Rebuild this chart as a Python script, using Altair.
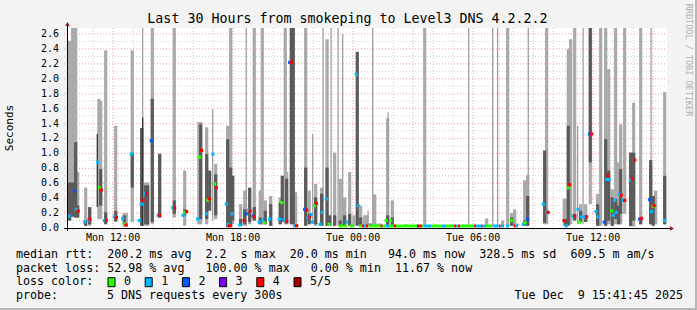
import altair as alt
import pandas as pd

# ---------------- data (hours since Mon 00:00, seconds) ----------------
X0, X1 = 9.696, 39.696      # Mon 09:41:45 .. Tue 15:41:45
Y1 = 2.68
TOP = 2.7
W = 0.16

# light smoke (t, lo, hi)
light_bars = [
    (9.75, 0.10, 2.51), (9.90, 0.23, TOP), (10.05, 0.14, TOP), (10.15, 0.14, 0.75),
    (10.55, 0.03, 0.54), (10.75, 0.03, 0.28), (11.21, 0.12, 1.73), (11.30, 0.12, 1.70),
    (11.55, 0.10, 2.38), (12.05, 0.08, 1.37), (12.48, 0.02, 0.20), (12.58, 0.02, 0.20),
    (12.88, 0.08, 2.38), (13.35, 0.03, 1.34), (13.55, 0.03, 0.61), (13.65, 0.03, 0.61),
    (13.88, 0.05, TOP), (14.25, 0.14, 1.00), (14.98, 0.14, TOP), (15.50, 0.03, 0.77),
    (16.21, 0.05, 1.42), (16.30, 0.05, 1.42), (16.60, 0.05, 1.35), (17.05, 0.12, 0.86),
    (17.65, 0.03, 1.37), (17.80, 0.03, TOP), (17.90, 0.05, 0.70), (18.30, 0.03, 0.32),
    (18.50, 0.03, 0.50), (18.75, 0.05, 0.54), (18.98, 0.10, TOP), (19.28, 0.05, 0.50),
    (19.38, 0.05, TOP), (19.53, 0.05, 0.37), (19.80, 0.03, 0.43), (20.28, 0.05, 0.41),
    (20.53, 0.05, TOP), (20.60, 0.05, 0.75), (20.85, 0.05, TOP), (21.05, 0.02, 0.48),
    (21.55, 0.03, TOP), (21.73, 0.05, 0.50), (22.05, 0.03, 0.59), (22.35, 0.03, 0.54),
    (22.62, 0.03, 2.53), (23.00, 0.03, 1.01), (23.28, 0.03, 0.66), (23.50, 0.03, 0.41),
    (23.75, 0.03, 0.75), (23.96, 0.03, 0.17), (24.30, 0.03, 0.30), (24.50, 0.03, 0.17),
    (24.60, 0.03, 0.17), (25.00, 0.03, 0.45), (25.15, 0.03, 0.06), (25.30, 0.03, 0.06),
    (25.65, 0.03, 1.47), (25.88, 0.03, 0.37), (26.55, 0.03, 0.05), (27.50, 0.03, TOP),
    (30.60, 0.03, 0.13), (31.40, 0.03, 0.10), (31.65, 0.03, TOP), (31.85, 0.03, 0.20),
    (32.00, 0.03, 0.25), (32.15, 0.03, 0.06), (32.50, 0.05, 0.64), (32.65, 0.03, 0.71),
    (33.50, 0.05, 0.70), (33.60, 0.05, TOP), (34.48, 0.03, 0.39), (34.58, 0.05, 0.39),
    (34.68, 0.05, 2.40), (34.80, 0.05, 2.53), (35.00, 0.10, TOP), (35.30, 0.08, 0.32),
    (35.55, 0.08, 0.32), (35.78, 0.32, TOP), (36.15, 0.03, 0.46), (36.30, 0.03, TOP),
    (36.55, 0.03, TOP), (36.70, 0.05, 2.13), (36.88, 0.03, 0.52), (37.05, 0.05, TOP),
    (37.20, 0.05, 0.88), (37.30, 0.05, 1.39), (37.50, 0.19, TOP), (37.80, 0.02, 1.01),
    (37.95, 0.02, 1.68), (38.30, 0.05, TOP), (38.80, 0.05, 0.83), (39.05, 0.05, 0.50),
    (39.50, 0.05, 1.82),
]

# dark smoke (t, lo, hi)
dark_bars = [
    (9.75, 0.10, 0.61), (9.90, 0.15, 0.61), (10.05, 0.14, 1.15), (10.15, 0.14, 0.30),
    (10.55, 0.03, 0.10), (10.75, 0.05, 0.28), (11.30, 0.30, 0.79), (11.55, 0.05, 0.21),
    (12.05, 0.09, 0.23), (12.48, 0.05, 0.17), (12.88, 0.54, 1.01), (13.35, 0.03, 1.34),
    (13.55, 0.05, 0.57), (13.65, 0.05, 0.57), (13.88, 0.08, 1.73), (14.25, 0.14, 0.99),
    (14.98, 0.19, 0.37), (15.50, 0.17, 0.25), (16.30, 0.12, 1.39), (16.60, 0.12, 0.99),
    (16.75, 0.23, 0.77), (17.05, 0.17, 0.72), (17.65, 0.01, 1.19), (17.80, 0.01, 0.81),
    (17.90, 0.10, 0.70), (18.30, 0.03, 0.12), (18.50, 0.05, 0.25), (18.75, 0.08, 0.54),
    (18.98, 0.10, 0.28), (19.28, 0.05, 0.14), (19.53, 0.05, 0.23), (19.80, 0.03, 0.32),
    (20.28, 0.05, 0.34), (20.38, 0.08, 0.70), (20.60, 0.06, 0.66), (20.83, 0.05, TOP),
    (20.93, 0.05, TOP), (21.55, 0.03, 0.81), (21.73, 0.05, 0.19), (22.05, 0.05, 0.41),
    (22.35, 0.03, 0.46), (22.62, 0.03, 0.81), (22.75, 0.03, 0.17), (23.00, 0.03, 0.17),
    (23.28, 0.03, 0.10), (23.50, 0.03, 0.17), (23.75, 0.03, 0.19), (24.13, 0.03, 2.36),
    (24.30, 0.03, 0.14), (24.78, 0.02, 0.06), (25.65, 0.03, 0.17), (25.88, 0.03, 0.14),
    (31.85, 0.03, 0.14), (32.50, 0.03, 0.10), (32.65, 0.03, 0.43), (33.50, 0.07, 1.04),
    (34.55, 0.03, 0.12), (34.68, 0.03, 1.37), (35.00, 0.10, 0.19), (35.30, 0.08, 0.23),
    (35.55, 0.08, 0.17), (35.78, 0.88, TOP), (36.15, 0.03, 0.32), (36.55, 0.03, 1.19),
    (36.70, 0.10, 0.77), (36.88, 0.03, 0.41), (37.05, 0.12, 0.39), (37.20, 0.05, 0.30),
    (37.30, 0.19, 0.79), (37.80, 0.03, 1.01), (37.95, 0.10, 1.01), (38.30, 0.05, 0.12),
    (38.80, 0.05, 0.91), (38.93, 0.03, 0.43), (39.50, 0.05, 0.70),
]

# thin smoke lines (t, lo, hi, shade)
thin_lines = [
    (11.21, 0.28, 1.26, "dark"), (13.48, 0.03, TOP, "light"), (13.48, 0.03, 1.48, "dark"),
    (16.98, 0.10, 1.59, "light"), (18.66, 0.03, TOP, "light"), (21.98, 0.05, 1.26, "light"),
    (22.50, 0.03, TOP, "light"), (22.90, 0.03, TOP, "light"), (23.25, 0.03, TOP, "light"),
    (23.48, 0.03, 2.60, "light"), (24.75, 0.03, 0.23, "light"), (24.98, 0.03, TOP, "light"),
    (25.75, 0.03, 1.55, "light"), (29.78, 0.03, TOP, "light"), (30.98, 0.03, TOP, "light"),
    (31.23, 0.03, TOP, "light"), (32.76, 0.03, TOP, "light"), (35.23, 0.05, 1.37, "light"),
    (35.50, 0.05, TOP, "light"), (38.90, 0.05, TOP, "light"),
]

# median rtt marks (t, value, loss class)
medians = [
    (9.80, 0.16, "1"), (10.08, 0.50, "2"), (10.16, 0.25, "1"), (10.25, 0.23, "4"),
    (10.58, 0.08, "1"), (10.78, 0.11, "1"), (10.84, 0.12, "4"),
    (11.23, 0.88, "1"), (11.31, 0.54, "0"), (11.41, 0.51, "4"),
    (11.56, 0.10, "1"), (11.66, 0.10, "4"), (12.06, 0.15, "1"), (12.16, 0.14, "4"),
    (12.48, 0.13, "1"), (12.56, 0.06, "0"), (12.65, 0.04, "4"), (12.91, 0.99, "1"),
    (13.31, 0.10, "1"), (13.41, 0.32, "1"), (13.50, 0.37, "4"), (13.60, 0.46, "1"),
    (13.68, 0.46, "4"), (13.91, 1.17, "2"), (14.25, 0.17, "1"), (14.33, 0.17, "4"),
    (14.98, 0.27, "1"), (15.08, 0.27, "4"), (15.50, 0.17, "1"), (15.58, 0.21, "0"),
    (15.68, 0.22, "4"), (16.23, 0.12, "1"), (16.33, 0.95, "0"), (16.43, 1.04, "4"),
    (16.66, 0.19, "1"), (16.73, 0.37, "0"), (16.81, 0.39, "4"), (16.99, 0.99, "1"),
    (17.08, 0.59, "0"), (17.16, 0.54, "4"), (17.66, 0.32, "1"), (17.75, 0.05, "1"),
    (17.83, 0.03, "4"), (17.95, 0.19, "1"), (18.33, 0.04, "1"), (18.56, 0.10, "4"),
    (18.66, 0.19, "2"), (18.78, 0.24, "1"), (18.85, 0.23, "4"), (19.00, 0.16, "2"),
    (19.05, 0.15, "4"), (19.30, 0.08, "1"), (19.48, 0.11, "1"), (19.58, 0.07, "0"),
    (19.83, 0.12, "1"), (20.31, 0.12, "1"), (20.43, 0.34, "0"), (20.55, 0.11, "1"),
    (20.68, 0.09, "4"), (20.83, 2.22, "2"), (20.93, 2.22, "4"), (21.08, 0.03, "1"),
    (21.18, 0.03, "4"), (21.58, 0.25, "2"), (21.68, 0.24, "4"), (21.75, 0.14, "1"),
    (21.83, 0.15, "4"), (21.90, 0.18, "1"), (21.96, 0.08, "1"), (22.08, 0.30, "0"),
    (22.16, 0.33, "4"), (22.35, 0.05, "1"), (22.46, 0.21, "1"), (22.66, 0.39, "1"),
    (22.80, 0.05, "0"), (23.68, 0.08, "1"), (24.16, 2.06, "1"), (24.26, 0.30, "1"),
    (25.65, 0.10, "0"), (25.88, 0.10, "0"), (31.91, 0.10, "0"), (32.51, 0.05, "1"),
    (32.60, 0.07, "0"), (32.73, 0.12, "2"), (33.51, 0.32, "1"), (33.68, 0.21, "1"),
    (33.75, 0.21, "4"), (34.55, 0.10, "4"), (34.66, 0.03, "1"), (34.75, 0.54, "0"),
    (34.83, 0.58, "4"), (35.00, 0.16, "1"), (35.08, 0.16, "4"), (35.25, 0.25, "1"),
    (35.33, 0.08, "0"), (35.43, 0.15, "1"), (35.58, 0.15, "1"), (35.68, 0.15, "4"),
    (35.83, 1.26, "2"), (35.93, 1.26, "4"), (36.15, 0.22, "1"), (36.26, 0.15, "1"),
    (36.56, 0.08, "2"), (36.68, 0.65, "1"), (36.75, 0.70, "4"), (36.81, 0.65, "1"),
    (36.93, 0.23, "0"), (37.01, 0.17, "1"), (37.08, 0.37, "1"), (37.16, 0.21, "1"),
    (37.33, 0.45, "1"), (37.41, 0.44, "4"), (37.51, 0.37, "1"), (37.58, 0.37, "4"),
    (37.86, 0.65, "1"), (37.95, 0.66, "4"), (38.08, 0.91, "4"), (38.33, 0.12, "2"),
    (38.43, 0.13, "4"), (38.83, 0.38, "2"), (38.93, 0.22, "1"), (39.00, 0.29, "0"),
    (39.05, 0.30, "4"), (39.58, 0.10, "1"),
]

# low median line segments during the quiet night (start, end, loss class)
low_segments = [
    (23.28, 23.50, "0"), (23.55, 23.68, "0"), (23.85, 24.05, "0"), (24.30, 24.45, "0"),
    (24.45, 24.55, "4"), (24.55, 24.65, "1"), (24.65, 24.75, "4"), (24.78, 25.38, "0"),
    (25.38, 25.48, "4"), (25.48, 25.65, "0"), (25.65, 25.80, "1"), (25.80, 26.03, "0"),
    (26.03, 26.15, "4"), (26.15, 27.20, "0"), (27.20, 27.30, "5"), (27.30, 27.45, "4"),
    (27.45, 27.55, "0"), (27.55, 27.90, "1"), (27.90, 28.45, "0"), (28.45, 28.65, "1"),
    (28.65, 29.05, "0"), (29.05, 29.15, "4"), (29.15, 29.25, "1"), (29.25, 29.35, "4"),
    (29.35, 30.05, "0"), (30.05, 30.15, "4"), (30.15, 30.40, "1"), (30.40, 30.48, "4"),
    (30.48, 30.65, "1"), (30.65, 30.95, "0"), (30.98, 31.28, "1"), (31.30, 31.38, "4"),
    (31.38, 31.55, "1"), (31.65, 31.80, "1"), (32.03, 32.10, "4"), (32.10, 32.25, "1"),
]

loss_classes = ["0", "1", "2", "3", "4", "5"]
loss_labels = ["0", "1", "2", "3", "4", "5/5"]
loss_colors = ["#26ff00", "#00b8ff", "#0059ff", "#7e00ff", "#ff0000", "#a00000"]

xtick_hours = [12, 18, 24, 30, 36]
xtick_labels = ["Mon 12:00", "Mon 18:00", "Tue 00:00", "Tue 06:00", "Tue 12:00"]
minor_hours = [10, 11, 13, 14, 16, 17, 19, 20, 22, 23, 25, 26, 28, 29, 31, 32, 34, 35, 37, 38]
major_hours = [12, 15, 18, 21, 24, 27, 30, 33, 36, 39]
ytick_vals = [0.0, 0.2, 0.4, 0.6, 0.8, 1.0, 1.2, 1.4, 1.6, 1.8, 2.0, 2.2, 2.4, 2.6]
ymajor = [0.2, 0.4, 0.6, 0.8, 1.0, 1.2, 1.4, 1.6, 1.8, 2.0, 2.2, 2.4, 2.6]
yminor = [0.1, 0.3, 0.5, 0.7, 0.9, 1.1, 1.3, 1.5, 1.7, 1.9, 2.1, 2.3, 2.5]

title_text = "Last 30 Hours from smokeping to Level3 DNS 4.2.2.2"
NB = "\u00a0"
legend_lines = [
    "median rtt:  200.2 ms avg  2.2  s max  20.0 ms min   94.0 ms now  328.5 ms sd  609.5 m am/s",
    "packet loss: 52.98 % avg   100.00 % max   0.00 % min  11.67 % now",
]
probe_label = "probe:"
probe_text = "5 DNS requests every 300s"
stamp_text = "Tue Dec  9 15:41:45 2025"

# ---------------- build ----------------
FONT = "DejaVu Sans Mono"
xs = alt.Scale(domain=[X0, X1], nice=False, zero=False)
ys = alt.Scale(domain=[0, Y1], nice=False, zero=False)

def df_bars(rows):
    d = pd.DataFrame(rows, columns=["t", "lo", "hi"])
    d["t2"] = d["t"] + W
    return d

light_df = df_bars(light_bars)
dark_df = df_bars(dark_bars)
thin_df = pd.DataFrame(thin_lines, columns=["t", "lo", "hi", "shade"])
med_df = pd.DataFrame(medians, columns=["t", "v", "cls"])
low_df = pd.DataFrame(low_segments, columns=["t", "t2", "cls"])
color_scale = alt.Scale(domain=loss_classes, range=loss_colors)

def X(f="t"):
    return alt.X(f + ":Q", scale=xs, axis=None)

def Y(f):
    return alt.Y(f + ":Q", scale=ys, axis=None)

layers = []
# grid
layers.append(alt.Chart(pd.DataFrame({"h": minor_hours})).mark_rule(
    color="#d0d0d0", strokeDash=[1, 2], strokeWidth=1).encode(
    x=X("h"), y=alt.value(0), y2=alt.value(203)))
layers.append(alt.Chart(pd.DataFrame({"h": major_hours})).mark_rule(
    color="#ff9a9a", strokeDash=[1, 2], strokeWidth=1).encode(
    x=X("h"), y=alt.value(0), y2=alt.value(203)))
layers.append(alt.Chart(pd.DataFrame({"v": yminor})).mark_rule(
    color="#d0d0d0", strokeDash=[1, 2], strokeWidth=1).encode(
    y=Y("v"), x=alt.value(-3), x2=alt.value(600)))
layers.append(alt.Chart(pd.DataFrame({"v": ymajor})).mark_rule(
    color="#ff9a9a", strokeDash=[1, 2], strokeWidth=1).encode(
    y=Y("v"), x=alt.value(-3), x2=alt.value(600)))

# smoke
layers.append(alt.Chart(light_df).mark_rect(color="#a9a9a9", clip=True).encode(
    x=X("t"), x2="t2:Q", y=Y("lo"), y2="hi:Q"))
layers.append(alt.Chart(thin_df[thin_df.shade == "light"]).mark_rule(
    color="#a0a0a0", strokeWidth=1.3, clip=True).encode(
    x=X("t"), y=Y("lo"), y2="hi:Q"))
layers.append(alt.Chart(dark_df).mark_rect(color="#5a5a5a", clip=True).encode(
    x=X("t"), x2="t2:Q", y=Y("lo"), y2="hi:Q"))
layers.append(alt.Chart(thin_df[thin_df.shade == "dark"]).mark_rule(
    color="#333333", strokeWidth=1.3, clip=True).encode(
    x=X("t"), y=Y("lo"), y2="hi:Q"))

# medians
layers.append(alt.Chart(low_df).mark_rect().encode(
    x=X("t"), x2="t2:Q", y=alt.value(196.5), y2=alt.value(199.5),
    color=alt.Color("cls:N", scale=color_scale, legend=None)))
layers.append(alt.Chart(med_df).mark_square(size=10, opacity=1).encode(
    x=X("t"), y=Y("v"),
    color=alt.Color("cls:N", scale=color_scale, legend=None)))

# axes
one = pd.DataFrame({"a": [0]})
layers.append(alt.Chart(one).mark_rule(color="black", strokeWidth=1).encode(
    x=alt.value(-3), x2=alt.value(604), y=alt.value(200.5)))
layers.append(alt.Chart(one).mark_rule(color="black", strokeWidth=1).encode(
    x=alt.value(0.5), y=alt.value(203), y2=alt.value(-3)))
layers.append(alt.Chart(one).mark_point(shape="triangle-up", filled=True, size=22,
    color="#8b1a1a", opacity=1).encode(x=alt.value(0.5), y=alt.value(-4)))
layers.append(alt.Chart(one).mark_point(shape="triangle-right", filled=True, size=22,
    color="#8b1a1a", opacity=1).encode(x=alt.value(605), y=alt.value(200.5)))

# tick labels
layers.append(alt.Chart(pd.DataFrame({"h": xtick_hours, "lab": xtick_labels})).mark_text(
    font=FONT, fontSize=10, color="black", baseline="middle").encode(
    x=X("h"), y=alt.value(210), text="lab:N"))
layers.append(alt.Chart(pd.DataFrame({"v": ytick_vals})).mark_text(
    font=FONT, fontSize=10, color="black", align="right", baseline="middle").encode(
    y=Y("v"), x=alt.value(-8), text=alt.Text("v:Q", format=".1f")))

# titles
def txt(s, x, y, **kw):
    return alt.Chart(pd.DataFrame({"s": [s.replace(" ", NB)]})).mark_text(
        font=FONT, baseline="middle", **kw).encode(
        x=alt.value(x), y=alt.value(y), text="s:N")

layers.append(txt(title_text, 280.5, -9, fontSize=13.3, align="center", color="black"))
layers.append(txt("Seconds", -57, 100, fontSize=11, align="center", angle=270, color="black"))
layers.append(txt("RRDTOOL / TOBI OETIKER", 622, 32, fontSize=8.5, align="center", angle=90,
                  color="#b0b0b0"))

LX = -51
row_y = [227, 240.7, 254.3, 268]
layers.append(txt(legend_lines[0], LX, row_y[0], fontSize=11.66, align="left", color="black"))
layers.append(txt(legend_lines[1], LX, row_y[1], fontSize=11.66, align="left", color="black"))
layers.append(txt("loss color:", LX, row_y[2], fontSize=11.66, align="left", color="black"))
layers.append(txt(probe_label, LX, row_y[3], fontSize=11.66, align="left", color="black"))
layers.append(txt(probe_text, 40, row_y[3], fontSize=11.66, align="left", color="black"))
layers.append(txt(stamp_text, 616, row_y[3], fontSize=11.66, align="right", color="black"))

# loss colour swatches
sw = pd.DataFrame({"cls": loss_classes, "lab": loss_labels, "i": list(range(6))})
sw_base = alt.Chart(sw).transform_calculate(
    bx="41 + datum.i * 37.2", bx2="48 + datum.i * 37.2", tx="57 + datum.i * 37.2")
layers.append(sw_base.mark_rect(stroke="black", strokeWidth=1).encode(
    x=alt.X("bx:Q", scale=None, axis=None), x2="bx2:Q",
    y=alt.value(249.7), y2=alt.value(258.7),
    color=alt.Color("cls:N", scale=color_scale, legend=None)))
layers.append(sw_base.mark_text(font=FONT, fontSize=11.66, align="left", baseline="middle",
    color="black").encode(x=alt.X("tx:Q", scale=None, axis=None), y=alt.value(row_y[2]),
    text="lab:N"))

# frame
layers.append(alt.Chart(one).mark_rule(color="#b8b8b8", strokeWidth=2).encode(
    x=alt.value(629), y=alt.value(-28), y2=alt.value(282)))
layers.append(alt.Chart(one).mark_rule(color="#b8b8b8", strokeWidth=2).encode(
    x=alt.value(-67), x2=alt.value(630), y=alt.value(281)))

chart = alt.layer(*layers).resolve_scale(x="shared", y="shared", color="shared").properties(
    width=600, height=200, background="#f3f3f3",
    padding={"left": 67, "top": 28, "right": 30, "bottom": 82},
    autosize=alt.AutoSizeParams(type="none"),
).configure_view(fill="white", stroke=None)

chart.save("out.html", embed_options={"renderer": "svg", "actions": False})
